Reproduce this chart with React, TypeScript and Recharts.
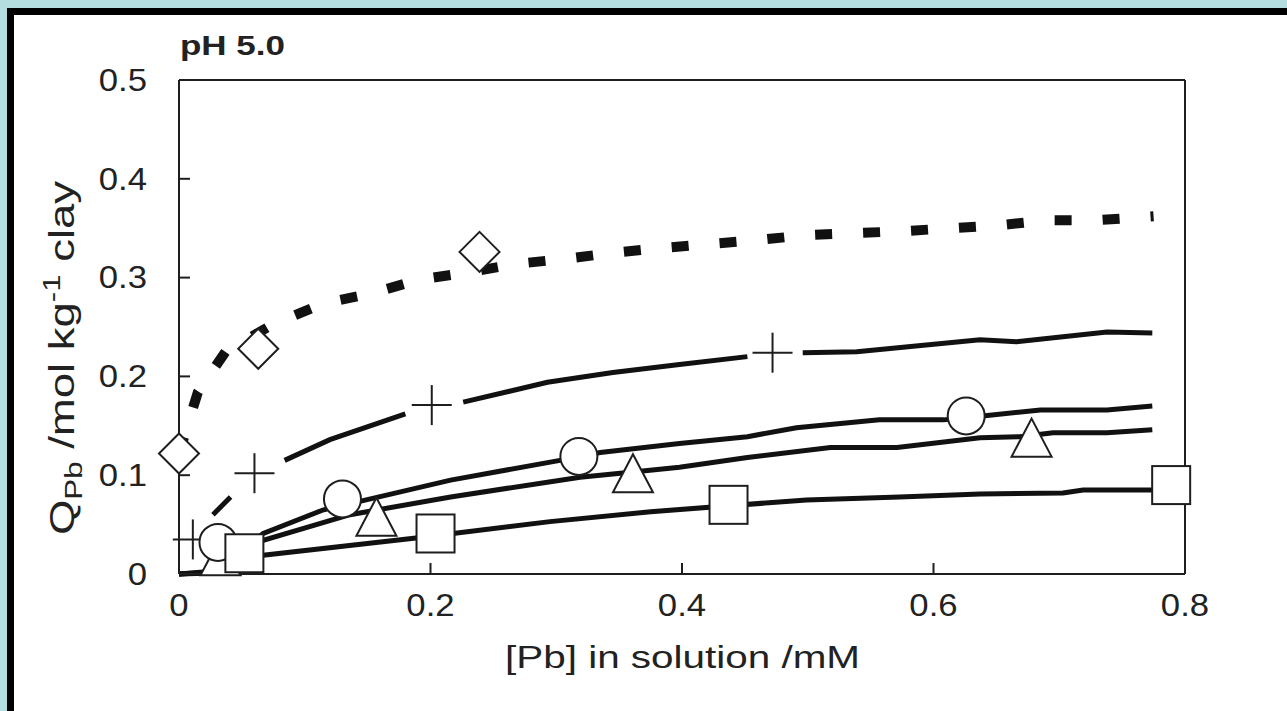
import React from 'react';
import { ComposedChart, Line, Scatter, XAxis, YAxis, ReferenceLine } from 'recharts';

const xTicks = [0, 0.2, 0.4, 0.6, 0.8];
const yTicks = [0, 0.1, 0.2, 0.3, 0.4, 0.5];
const xTickLabels = ['0', '0.2', '0.4', '0.6', '0.8'];
const yTickLabels = ['0', '0.1', '0.2', '0.3', '0.4', '0.5'];

const diamondPoints = [
  { x: 0.0, y: 0.122 },
  { x: 0.063, y: 0.228 },
  { x: 0.239, y: 0.326 },
];
const plusPoints = [
  { x: 0.011, y: 0.035 },
  { x: 0.06, y: 0.102 },
  { x: 0.201, y: 0.171 },
  { x: 0.472, y: 0.224 },
];
const circlePoints = [
  { x: 0.031, y: 0.032 },
  { x: 0.13, y: 0.076 },
  { x: 0.318, y: 0.119 },
  { x: 0.626, y: 0.16 },
];
const trianglePoints = [
  { x: 0.033, y: 0.018 },
  { x: 0.157, y: 0.058 },
  { x: 0.361, y: 0.102 },
  { x: 0.678, y: 0.138 },
];
const squarePoints = [
  { x: 0.052, y: 0.021 },
  { x: 0.204, y: 0.041 },
  { x: 0.437, y: 0.07 },
  { x: 0.789, y: 0.09 },
];

const diamondCurve = [
  { x: 0.0, y: 0.122 },
  { x: 0.015, y: 0.184 },
  { x: 0.037, y: 0.225 },
  { x: 0.075, y: 0.253 },
  { x: 0.115, y: 0.274 },
  { x: 0.153, y: 0.284 },
  { x: 0.191, y: 0.298 },
  { x: 0.229, y: 0.305 },
  { x: 0.269, y: 0.314 },
  { x: 0.307, y: 0.319 },
  { x: 0.345, y: 0.325 },
  { x: 0.384, y: 0.33 },
  { x: 0.422, y: 0.334 },
  { x: 0.46, y: 0.338 },
  { x: 0.499, y: 0.343 },
  { x: 0.538, y: 0.345 },
  { x: 0.576, y: 0.347 },
  { x: 0.614, y: 0.35 },
  { x: 0.652, y: 0.353 },
  { x: 0.691, y: 0.358 },
  { x: 0.729, y: 0.358 },
  { x: 0.775, y: 0.362 },
];
const plusCurve = [
  { x: 0.027, y: 0.06 },
  { x: 0.041, y: 0.078 },
  { x: 0.06, y: null },
  { x: 0.084, y: 0.115 },
  { x: 0.12, y: 0.136 },
  { x: 0.18, y: 0.162 },
  { x: 0.2, y: null },
  { x: 0.226, y: 0.174 },
  { x: 0.293, y: 0.194 },
  { x: 0.345, y: 0.204 },
  { x: 0.398, y: 0.212 },
  { x: 0.452, y: 0.22 },
  { x: 0.47, y: null },
  { x: 0.496, y: 0.224 },
  { x: 0.539, y: 0.225 },
  { x: 0.637, y: 0.237 },
  { x: 0.666, y: 0.235 },
  { x: 0.738, y: 0.245 },
  { x: 0.774, y: 0.244 },
];
const circleCurve = [
  { x: 0.0, y: 0.0 },
  { x: 0.029, y: 0.003 },
  { x: 0.067, y: 0.041 },
  { x: 0.115, y: 0.065 },
  { x: 0.216, y: 0.095 },
  { x: 0.303, y: 0.115 },
  { x: 0.335, y: 0.123 },
  { x: 0.398, y: 0.132 },
  { x: 0.452, y: 0.139 },
  { x: 0.491, y: 0.148 },
  { x: 0.557, y: 0.156 },
  { x: 0.608, y: 0.156 },
  { x: 0.639, y: 0.16 },
  { x: 0.685, y: 0.166 },
  { x: 0.738, y: 0.166 },
  { x: 0.774, y: 0.17 },
];
const triangleCurve = [
  { x: 0.0, y: 0.0 },
  { x: 0.029, y: 0.002 },
  { x: 0.067, y: 0.034 },
  { x: 0.136, y: 0.06 },
  { x: 0.216, y: 0.078 },
  { x: 0.319, y: 0.098 },
  { x: 0.351, y: 0.102 },
  { x: 0.398, y: 0.108 },
  { x: 0.452, y: 0.118 },
  { x: 0.518, y: 0.128 },
  { x: 0.571, y: 0.128 },
  { x: 0.637, y: 0.138 },
  { x: 0.669, y: 0.139 },
  { x: 0.695, y: 0.143 },
  { x: 0.738, y: 0.143 },
  { x: 0.774, y: 0.146 },
];
const squareCurve = [
  { x: 0.0, y: 0.0 },
  { x: 0.029, y: 0.001 },
  { x: 0.067, y: 0.019 },
  { x: 0.192, y: 0.037 },
  { x: 0.295, y: 0.053 },
  { x: 0.375, y: 0.063 },
  { x: 0.499, y: 0.075 },
  { x: 0.573, y: 0.078 },
  { x: 0.637, y: 0.081 },
  { x: 0.703, y: 0.082 },
  { x: 0.719, y: 0.085 },
  { x: 0.774, y: 0.085 },
];

const INK = '#1e1e1e';
const FONT = '"Liberation Sans", Arial, Helvetica, sans-serif';
const TICK_MARGIN_Y = 32;
const TICK_MARGIN_X = 31;

const renderDiamond = (p: any) => {
  const { cx, cy } = p;
  const h = 20;
  return (
    <path
      d={`M${cx},${cy - h} L${cx + h},${cy} L${cx},${cy + h} L${cx - h},${cy} Z`}
      fill="#fff"
      stroke={INK}
      strokeWidth={2}
    />
  );
};
const renderPlus = (p: any) => {
  const { cx, cy } = p;
  const h = 20;
  return (
    <g stroke={INK} strokeWidth={2}>
      <line x1={cx - h} y1={cy} x2={cx + h} y2={cy} />
      <line x1={cx} y1={cy - h} x2={cx} y2={cy + h} />
    </g>
  );
};
const renderCircle = (p: any) => {
  const { cx, cy } = p;
  return <circle cx={cx} cy={cy} r={18.5} fill="#fff" stroke={INK} strokeWidth={2} />;
};
const renderTriangle = (p: any) => {
  const { cx, cy } = p;
  return (
    <path
      d={`M${cx},${cy - 19} L${cx + 20},${cy + 19} L${cx - 20},${cy + 19} Z`}
      fill="#fff"
      stroke={INK}
      strokeWidth={2}
    />
  );
};
const renderSquare = (p: any) => {
  const { cx, cy } = p;
  return <rect x={cx - 19} y={cy - 19} width={38} height={38} fill="#fff" stroke={INK} strokeWidth={2} />;
};

const YTick = (props: any) => {
  const { x, y, payload, index } = props;
  const axisX = x + TICK_MARGIN_Y;
  const v = payload.value;
  const showLine = v > 0 && v < 0.5;
  return (
    <g>
      {showLine && <line x1={axisX} y1={y} x2={axisX + 11} y2={y} stroke={INK} strokeWidth={2} />}
      <text
        transform={`translate(${x},${y}) scale(1.12,1)`}
        textAnchor="end"
        dominantBaseline="central"
        fontFamily={FONT}
        fontSize={31}
        fill="#222"
      >
        {yTickLabels[index] ?? String(v)}
      </text>
    </g>
  );
};

const XTick = (props: any) => {
  const { x, y, payload, index } = props;
  const axisY = y - TICK_MARGIN_X;
  const v = payload.value;
  const showLine = v > 0 && v < 0.8;
  return (
    <g>
      {showLine && <line x1={x} y1={axisY} x2={x} y2={axisY - 11} stroke={INK} strokeWidth={2} />}
      <text
        transform={`translate(${x},${y}) scale(1.12,1)`}
        textAnchor="middle"
        dominantBaseline="central"
        fontFamily={FONT}
        fontSize={31}
        fill="#222"
      >
        {xTickLabels[index] ?? String(v)}
      </text>
    </g>
  );
};

export default function App() {
  return (
    <div
      style={{
        position: 'fixed',
        left: 0,
        top: 0,
        width: 1287,
        height: 711,
        background: '#b4dde0',
        overflow: 'hidden',
      }}
    >
      <div
        style={{
          position: 'absolute',
          left: 7,
          top: 8,
          width: 1320,
          height: 740,
          background: '#fff',
          border: '7px solid #000',
        }}
      />
      <div style={{ position: 'absolute', left: 0, top: 0 }}>
        <ComposedChart
          width={1287}
          height={711}
          margin={{ top: 80, right: 102, bottom: 77, left: 79 }}
        >
          <XAxis
            type="number"
            dataKey="x"
            domain={[0, 0.8]}
            ticks={xTicks}
            height={60}
            tickSize={0}
            tickMargin={TICK_MARGIN_X}
            tickLine={false}
            axisLine={{ stroke: INK, strokeWidth: 2 }}
            tick={XTick}
            interval={0}
          />
          <YAxis
            type="number"
            dataKey="y"
            domain={[0, 0.5]}
            ticks={yTicks}
            width={100}
            tickSize={0}
            tickMargin={TICK_MARGIN_Y}
            tickLine={false}
            axisLine={{ stroke: INK, strokeWidth: 2 }}
            tick={YTick}
            interval={0}
          />
          <ReferenceLine y={0.5} stroke={INK} strokeWidth={2} />
          <ReferenceLine x={0.8} stroke={INK} strokeWidth={2} />

          <Line
            data={diamondCurve}
            dataKey="y"
            type="linear"
            stroke="#111"
            strokeWidth={10}
            strokeDasharray="17 31"
            strokeLinecap="butt"
            dot={false}
            activeDot={false}
            isAnimationActive={false}
          />
          <Line
            data={plusCurve}
            dataKey="y"
            type="linear"
            stroke="#111"
            strokeWidth={5}
            dot={false}
            activeDot={false}
            connectNulls={false}
            isAnimationActive={false}
          />
          <Line
            data={circleCurve}
            dataKey="y"
            type="linear"
            stroke="#111"
            strokeWidth={5}
            dot={false}
            activeDot={false}
            isAnimationActive={false}
          />
          <Line
            data={triangleCurve}
            dataKey="y"
            type="linear"
            stroke="#111"
            strokeWidth={5}
            dot={false}
            activeDot={false}
            isAnimationActive={false}
          />
          <Line
            data={squareCurve}
            dataKey="y"
            type="linear"
            stroke="#111"
            strokeWidth={5}
            dot={false}
            activeDot={false}
            isAnimationActive={false}
          />

          <Scatter data={plusPoints} dataKey="y" shape={renderPlus} isAnimationActive={false} />
          <Scatter data={diamondPoints} dataKey="y" shape={renderDiamond} isAnimationActive={false} />
          <Scatter data={trianglePoints} dataKey="y" shape={renderTriangle} isAnimationActive={false} />
          <Scatter data={circlePoints} dataKey="y" shape={renderCircle} isAnimationActive={false} />
          <Scatter data={squarePoints} dataKey="y" shape={renderSquare} isAnimationActive={false} />
        </ComposedChart>
      </div>
      <svg
        width={1287}
        height={711}
        style={{ position: 'absolute', left: 0, top: 0, pointerEvents: 'none' }}
      >
        <text
          x={180}
          y={55}
          fontFamily={FONT}
          fontWeight="bold"
          fontSize={28}
          fill="#222"
          textLength={105}
          lengthAdjust="spacingAndGlyphs"
        >
          pH 5.0
        </text>
        <text
          x={505}
          y={668}
          fontFamily={FONT}
          fontSize={32}
          fill="#222"
          textLength={355}
          lengthAdjust="spacingAndGlyphs"
        >
          [Pb] in solution /mM
        </text>
        <text
          transform="translate(74,358) rotate(-90) scale(1.3,1)"
          textAnchor="middle"
          fontFamily={FONT}
          fontSize={35}
          fill="#222"
        >
          Q<tspan fontSize={24} dy={8}>Pb</tspan>
          <tspan dy={-8}> /mol kg</tspan>
          <tspan fontSize={24} dy={-14}>-1</tspan>
          <tspan dy={14}> clay</tspan>
        </text>
      </svg>
    </div>
  );
}
